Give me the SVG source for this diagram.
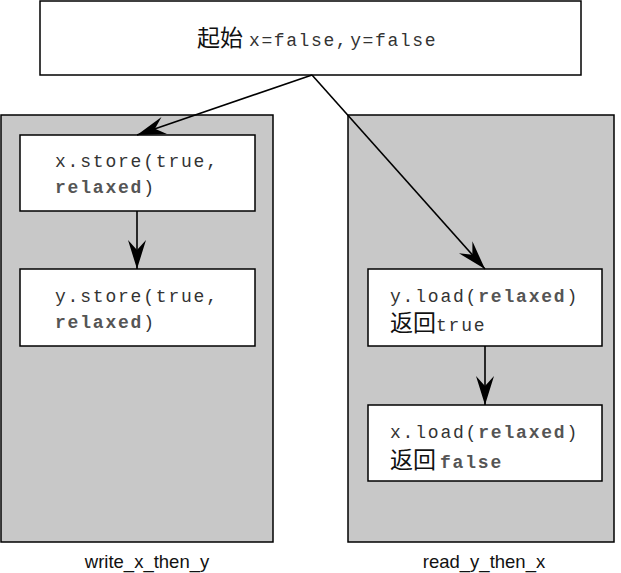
<svg xmlns="http://www.w3.org/2000/svg" width="621" height="573" viewBox="0 0 621 573">
<style>
.panel{fill:#c8c8c8;stroke:#000;stroke-width:1.5}
.box{fill:#fff;stroke:#000;stroke-width:1.5}
.code{font-family:"Liberation Mono",monospace;font-size:18px;letter-spacing:1.8px;fill:#333}
.b{font-weight:bold;fill:#555}
.cjk{font-family:"Noto Sans CJK SC",sans-serif;font-size:23px;fill:#111;letter-spacing:0}
.lbl{font-family:"Liberation Sans",Arial,sans-serif;font-size:18.5px;fill:#111;text-anchor:middle}
.conn{stroke:#000;stroke-width:1.6;fill:none}
</style>
<defs>
<marker id="ah" viewBox="0 0 29 18" refX="29" refY="9" markerWidth="29" markerHeight="18" markerUnits="userSpaceOnUse" orient="auto">
<path d="M0,0 L29,9 L0,18 L10,9 z" fill="#000"/>
</marker>
</defs>
<g id="panel-left"><rect class="panel" x="1" y="115" width="272" height="427"/><text class="lbl" x="147" y="568">write_x_then_y</text></g>
<g id="panel-right"><rect class="panel" x="348" y="115" width="266" height="427"/><text class="lbl" x="484" y="568">read_y_then_x</text></g>
<g id="start"><rect class="box" x="40" y="1" width="541" height="74"/>
<text x="197" y="46"><tspan class="cjk">起始</tspan><tspan class="code" dx="6" style="letter-spacing:1.6px">x=false,</tspan><tspan class="code" dx="2" style="letter-spacing:1.6px">y=false</tspan></text></g>
<g id="n1"><rect class="box" x="20" y="135" width="235" height="76"/>
<text class="code" x="55" y="167">x.store(true,</text><text class="code" x="55" y="193"><tspan class="b">relaxed</tspan>)</text></g>
<g id="n2"><rect class="box" x="20" y="269" width="235" height="77"/>
<text class="code" x="55" y="302">y.store(true,</text><text class="code" x="55" y="328"><tspan class="b">relaxed</tspan>)</text></g>
<g id="n3"><rect class="box" x="368" y="269" width="234" height="77"/>
<text class="code" x="390" y="302">y.load(<tspan class="b">relaxed</tspan>)</text>
<text x="390" y="331"><tspan class="cjk">返回</tspan><tspan class="code">true</tspan></text></g>
<g id="n4"><rect class="box" x="368" y="405" width="234" height="76"/>
<text class="code" x="390" y="438">x.load(<tspan class="b">relaxed</tspan>)</text>
<text x="390" y="468"><tspan class="cjk">返回</tspan><tspan class="code b" dx="4">false</tspan></text></g>
<g id="connectors">
<line class="conn" x1="312" y1="75" x2="137" y2="135" marker-end="url(#ah)"/>
<line class="conn" x1="312" y1="75" x2="485" y2="269" marker-end="url(#ah)"/>
<line class="conn" x1="137" y1="211" x2="137" y2="269" marker-end="url(#ah)"/>
<line class="conn" x1="485" y1="346" x2="485" y2="405" marker-end="url(#ah)"/>
</g>
</svg>
